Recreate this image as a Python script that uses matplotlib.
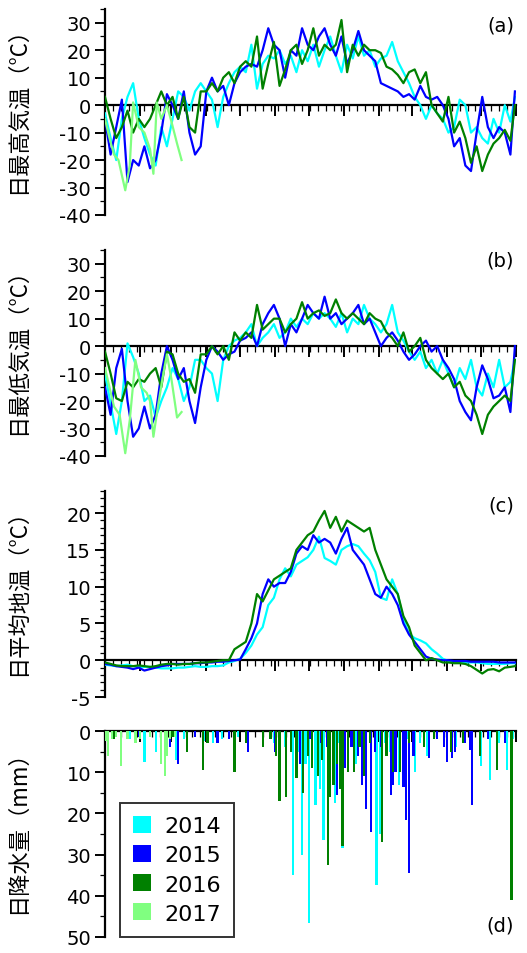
import numpy as np
import matplotlib
matplotlib.use('Agg')
import matplotlib.pyplot as plt
from matplotlib.patches import Patch

plt.rcParams['font.family'] = ['DejaVu Sans', 'Noto Sans CJK JP']
plt.rcParams['axes.unicode_minus'] = False

# 年ごとの色
years = ['2014', '2015', '2016', '2017']
colors = ['#00FFFF', '#0000FF', '#008000', '#80FF80']

# 5日おきの日付（通日, 0=1月1日）
days = [0, 5, 10, 15, 20, 25, 30, 35, 40, 45, 50, 55, 60, 65, 70, 75, 80, 85, 90, 95,
        100, 105, 110, 115, 120, 125, 130, 135, 140, 145, 150, 155, 160, 165, 170, 175,
        180, 185, 190, 195, 200, 205, 210, 215, 220, 225, 230, 235, 240, 245, 250, 255,
        260, 265, 270, 275, 280, 285, 290, 295, 300, 305, 310, 315, 320, 325, 330, 335,
        340, 345, 350, 355, 360, 364]

# (a) 日最高気温
tmax_2014 = [-3, -12, -20, -5, 3, 8, -5, -12, -18, -22, -8, -15, -5, 5, 3, -2, 5, 8, 5, 2,
             -8, 3, 8, 12, 14, 12, 22, 6, 15, 18, 17, 20, 15, 18, 12, 20,
             16, 22, 14, 20, 25, 18, 12, 22, 17, 25, 18, 20, 14, 17, 18, 23,
             16, 12, 8, 3, 0, -5, 0, -3, -5, -10, -8, 2, 0, -10, -8, -12,
             -14, -5, -10, 0, -6, 3]
tmax_2015 = [-5, -18, -8, 2, -28, -20, -22, -15, -23, -20, -10, 4, 0, -5, 5, -10, -18, -15, 5, 10,
             5, 7, 0, 8, 12, 14, 15, 14, 20, 28, 22, 20, 10, 20, 18, 28,
             22, 20, 25, 28, 22, 18, 25, 15, 20, 27, 20, 18, 16, 8, 7, 6,
             5, 3, 4, 2, 7, 3, 2, 3, 0, -5, -15, -12, -22, -24, -10, 3,
             -8, -12, -8, -10, -18, 5]
tmax_2016 = [3, -5, -12, -8, -2, -10, -5, -8, -5, 0, 5, 0, 3, -5, 3, -8, -10, 5, 5, 8,
             5, 10, 12, 8, 14, 16, 14, 25, 6, 15, 23, 7, 13, 20, 22, 15,
             20, 28, 18, 22, 20, 22, 31, 12, 22, 18, 22, 20, 20, 19, 14, 13,
             11, 8, 12, 13, 8, 12, 0, -3, -6, 3, -10, -6, -12, -21, -15, -24,
             -18, -14, -12, -9, -13, 0]
tmax_2017_days = [0, 4, 8, 12, 18, 22, 25, 30, 35, 40, 43, 46, 50, 55, 59, 64, 68]
tmax_2017 = [-5, -12, -18, -20, -31, -22, 1, -8, -10, -16, -25, 1, -5, 0, -6, -14, -20]

# (b) 日最低気温
tmin_2014 = [-10, -21, -32, -20, 1, -4, -10, -20, -18, -26, -20, -15, -8, -12, -20, -15, -5, -5, -8, -10,
             -20, -5, 0, 2, 3, 5, 8, 0, 3, 5, 8, 3, 5, 10, 7, 10,
             8, 12, 10, 12, 10, 7, 12, 5, 10, 8, 15, 10, 8, 5, 8, 15,
             5, 2, -2, -5, -2, -8, -5, -10, -5, -10, -15, -8, -12, -5, -15, -18,
             -10, -15, -5, -15, -13, -5]
tmin_2015 = [-15, -25, -8, -1, -20, -33, -30, -22, -30, -25, -10, 0, -5, -12, -8, -20, -28, -15, -5, 0,
             -2, -5, -3, -2, 2, 3, 5, 0, 8, 12, 15, 10, 0, 8, 5, 10,
             15, 12, 10, 18, 10, 12, 8, 10, 12, 15, 8, 10, 5, 0, 3, 5,
             2, -2, -5, -3, 0, 2, -2, 0, -5, -8, -12, -20, -24, -27, -15, -7,
             -12, -19, -18, -15, -24, 0]
tmin_2016 = [-2, -10, -19, -20, -13, -15, -12, -13, -10, -8, -15, -2, -3, -10, -13, -12, -17, -3, -3, 0,
             -3, 0, -5, 5, 2, 5, 3, 15, 6, 8, 10, 10, 5, 8, 10, 16,
             10, 12, 13, 11, 12, 17, 12, 10, 12, 10, 8, 12, 10, 9, 5, 3,
             0, 5, -2, 0, 3, -5, -8, -10, -12, -10, -15, -13, -18, -20, -25, -32,
             -25, -22, -20, -18, -20, -5]
tmin_2017_days = [0, 4, 8, 13, 18, 22, 27, 32, 37, 40, 43, 47, 51, 55, 59, 64, 68]
tmin_2017 = [-8, -15, -22, -25, -39, -27, -5, -15, -17, -20, -33, -22, -12, -3, -12, -26, -24]

# (c) 日平均地温
tg_2014 = [-0.6, -0.7, -0.8, -0.7, -0.6, -0.8, -0.9, -0.9, -0.9, -1.0, -1.1, -1.1, -1.1, -1.0, -1.0, -0.9, -0.8, -0.9, -0.9, -0.8,
           -0.8, -0.7, -0.3, -0.1, 0.2, 1.0, 2.0, 3.5, 4.5, 7.5, 8.5, 11.0, 12.5, 11.4, 13.0, 13.5,
           14.0, 15.0, 16.8, 13.9, 13.5, 13.0, 15.0, 15.5, 15.8, 15.5, 14.5, 13.6, 12.0, 8.5, 8.2, 11.0,
           9.0, 5.5, 3.6, 3.0, 2.7, 2.3, 1.5, 0.9, 0.2, -0.1, -0.2, -0.2, -0.3, -0.3, -0.3, -0.4,
           -0.5, -0.5, -0.5, -0.5, -0.4, -0.4]
tg_2015 = [-0.5, -0.6, -0.8, -0.9, -1.0, -1.2, -1.0, -1.4, -1.2, -1.0, -0.8, -0.7, -0.5, -0.5, -0.5, -0.5, -0.4, -0.4, -0.3, -0.3,
           -0.2, -0.2, -0.1, 0.0, 0.1, 1.5, 3.0, 5.0, 9.0, 11.0, 10.0, 10.5, 10.5, 12.0, 14.5, 15.5,
           15.0, 17.0, 16.0, 16.5, 16.0, 14.5, 16.5, 18.0, 15.0, 14.0, 13.0, 11.0, 9.0, 8.5, 10.0, 9.0,
           7.5, 5.0, 3.5, 2.5, 1.5, 0.5, 0.2, 0.1, 0.0, 0.0, -0.1, -0.1, -0.1, -0.2, -0.2, -0.2,
           -0.2, -0.2, -0.3, -0.3, -0.3, -0.3]
tg_2016 = [-0.3, -0.5, -0.7, -0.8, -0.8, -0.8, -0.7, -0.8, -0.9, -0.8, -0.6, -0.5, -0.5, -0.6, -0.5, -0.5, -0.4, -0.3, -0.3, -0.2,
           -0.1, 0.0, 0.0, 1.5, 2.0, 2.5, 5.0, 9.0, 8.0, 9.5, 11.0, 11.5, 12.0, 12.5, 15.0, 16.0,
           17.0, 17.5, 19.0, 20.3, 18.0, 19.5, 17.5, 19.0, 18.5, 18.0, 17.5, 18.0, 15.0, 13.0, 11.0, 10.0,
           9.0, 6.0, 4.5, 2.0, 1.0, 0.0, 0.3, 0.0, -0.3, -0.3, -0.4, -0.4, -0.5, -0.8, -1.3, -1.8,
           -1.3, -1.2, -1.5, -1.0, -0.9, -0.8]

# (d) 日降水量（降水のあった日のみ）
pr_2014_days = [2, 10, 22, 35, 45, 63, 70, 88, 96, 104, 118, 140, 150, 160, 167, 172, 175, 178, 181, 184,
                187, 191, 194, 198, 204, 208, 211, 216, 220, 223, 230, 236, 241, 244, 249, 253, 261, 268, 275, 280,
                286, 295, 312, 320, 334, 342, 350, 357, 362]
pr_2014 = [2, 1.5, 2, 7.5, 5, 7, 2, 2.5, 3, 2, 1.5, 2, 3, 4, 35, 5, 30, 8, 46.5, 6,
           18, 14, 26.5, 5, 17.5, 3, 28.5, 10, 4, 8, 6, 5, 37.5, 25, 3, 5, 13, 2, 10, 3,
           6, 2, 4, 2, 8.5, 12, 3, 9.5, 2]
pr_2015_days = [20, 30, 50, 58, 65, 80, 100, 110, 127, 140, 151, 165, 173, 182, 192, 197, 206, 213, 219, 225,
                228, 232, 236, 240, 245, 254, 256, 258, 262, 265, 267, 270, 274, 288, 295, 301, 304, 308, 311, 320,
                324, 326, 340, 355]
pr_2015 = [2, 1.5, 7, 4, 8, 1.5, 3, 2, 5, 2, 5, 3, 8, 2, 3, 4, 15.5, 9, 4, 6,
           13, 19, 24.5, 5, 4, 15.5, 13, 10, 3, 13.5, 21.5, 34.5, 6, 6.5, 2, 4, 7.5, 6.5, 5, 3,
           4.5, 18, 2, 3]
pr_2016_days = [8, 31, 60, 73, 87, 91, 115, 125, 140, 147, 152, 155, 161, 165, 170, 176, 180, 184, 189, 193,
                198, 200, 203, 206, 209, 211, 216, 221, 226, 230, 235, 246, 250, 256, 262, 270, 283, 292, 307, 318,
                333, 348, 361]
pr_2016 = [2, 2, 1.5, 5, 9.5, 3, 10, 3, 4, 2, 6, 17, 16, 5, 11.5, 15, 6, 9, 11, 7,
           32.5, 16, 13, 8, 14, 28, 10, 10, 4, 11, 3, 27, 6, 10, 10, 3, 4, 2, 5, 3,
           6, 9.5, 41]
pr_2017_days = [1, 3, 6, 10, 14, 20, 27, 31, 40, 50, 53, 55, 58, 62]
pr_2017 = [2.5, 6, 2, 1.5, 8.5, 2, 3, 2, 1.5, 8, 11, 6, 2, 1.5]

month_starts = [0, 31, 59, 90, 120, 151, 181, 212, 243, 273, 304, 334, 365]

fig = plt.figure(figsize=(5.27, 9.54), dpi=100)
left, width, height = 0.1992, 0.78, 0.2159
bottoms = [0.7736, 0.5210, 0.2683, 0.0168]
axes = [fig.add_axes([left, b, width, height]) for b in bottoms]


def style_axis(ax, ylabel, letter, letter_y, ymaj, ymin):
    ax.set_xlim(0, 365)
    ax.spines['top'].set_visible(False)
    ax.spines['right'].set_visible(False)
    ax.spines['bottom'].set_position(('data', 0))
    ax.spines['left'].set_linewidth(1.6)
    ax.spines['bottom'].set_linewidth(1.6)
    ax.set_xticks(month_starts)
    ax.set_xticks(np.arange(0, 366, 7), minor=True)
    ax.set_yticks(ymaj)
    ax.set_yticks(ymin, minor=True)
    ax.tick_params(axis='x', which='major', direction='out', length=8, width=1.4, labelbottom=False)
    ax.tick_params(axis='x', which='minor', direction='out', length=4.5, width=0.9)
    ax.tick_params(axis='y', which='major', length=7, width=1.4, labelsize=14, pad=3)
    ax.tick_params(axis='y', which='minor', length=3.5, width=0.9)
    ax.set_ylabel(ylabel, fontsize=16, family=['Noto Sans CJK JP', 'DejaVu Sans'])
    ax.yaxis.set_label_coords(-0.185, 0.54)
    ax.text(0.995, letter_y, letter, transform=ax.transAxes, ha='right', va='center', fontsize=14)


# (a)
ax = axes[0]
for vals, c in zip([tmax_2014, tmax_2015, tmax_2016], colors[:3]):
    ax.plot(days, vals, color=c, lw=1.6, zorder=3)
ax.plot(tmax_2017_days, tmax_2017, color=colors[3], lw=1.6, zorder=3)
ax.set_ylim(-40, 35)
style_axis(ax, '日最高気温（°C）', '(a)', 0.92, np.arange(-40, 31, 10), np.arange(-35, 36, 10))

# (b)
ax = axes[1]
for vals, c in zip([tmin_2014, tmin_2015, tmin_2016], colors[:3]):
    ax.plot(days, vals, color=c, lw=1.6, zorder=3)
ax.plot(tmin_2017_days, tmin_2017, color=colors[3], lw=1.6, zorder=3)
ax.set_ylim(-40, 35)
style_axis(ax, '日最低気温（°C）', '(b)', 0.95, np.arange(-40, 31, 10), np.arange(-35, 36, 10))

# (c)
ax = axes[2]
for vals, c in zip([tg_2014, tg_2015, tg_2016], colors[:3]):
    ax.plot(days, vals, color=c, lw=1.6, zorder=3)
ax.set_ylim(-5, 23)
style_axis(ax, '日平均地温（°C）', '(c)', 0.93, np.arange(-5, 21, 5), np.arange(-5, 24, 1))

# (d)
ax = axes[3]
pr_sets = [(pr_2014_days, pr_2014), (pr_2015_days, pr_2015),
           (pr_2016_days, pr_2016), (pr_2017_days, pr_2017)]
for (dd, vv), c in zip(pr_sets, colors):
    ax.bar(dd, vv, width=2.0, color=c, linewidth=0, align='center', zorder=3)
ax.set_ylim(50, 0)
style_axis(ax, '日降水量（mm）', '(d)', 0.06, np.arange(0, 51, 10), np.arange(5, 50, 10))

handles = [Patch(facecolor=c, edgecolor='none', label=y) for y, c in zip(years, colors)]
leg = ax.legend(handles=handles, loc='lower left', bbox_to_anchor=(0.036, 0.0),
                borderaxespad=0, fontsize=16, handlelength=0.8, handleheight=0.8,
                handletextpad=0.6, labelspacing=0.4, borderpad=0.6,
                fancybox=False, frameon=True)
leg.get_frame().set_edgecolor('black')
leg.get_frame().set_linewidth(1.4)

fig.savefig('out.png', dpi=100)
